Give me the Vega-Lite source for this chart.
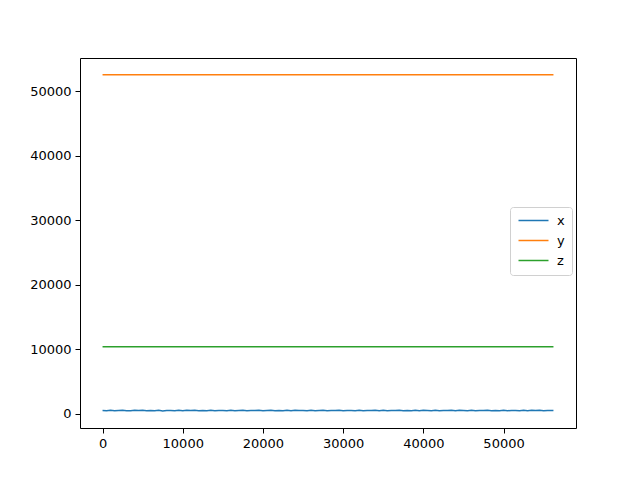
{
  "$schema": "https://vega.github.io/schema/vega-lite/v6.json",
  "width": 496,
  "height": 370,
  "autosize": "none",
  "padding": {"left": 80, "top": 58, "right": 64, "bottom": 52},
  "background": "white",
  "config": {
    "font": "DejaVu Sans",
    "view": {"stroke": "black", "strokeWidth": 1},
    "axis": {
      "grid": false,
      "domain": false,
      "tickColor": "black",
      "tickSize": 5,
      "labelColor": "black",
      "labelFont": "DejaVu Sans",
      "labelFontSize": 13,
      "labelPadding": 4,
      "title": null
    }
  },
  "data": {
    "values": [
      {"t":0,"s":"x","v":506},{"t":500,"s":"x","v":478},{"t":1000,"s":"x","v":539},{"t":1500,"s":"x","v":465},{"t":2000,"s":"x","v":520},{"t":2500,"s":"x","v":551},{"t":3000,"s":"x","v":485},{"t":3500,"s":"x","v":458},{"t":4000,"s":"x","v":530},{"t":4500,"s":"x","v":499},
      {"t":5000,"s":"x","v":562},{"t":5500,"s":"x","v":473},{"t":6000,"s":"x","v":516},{"t":6500,"s":"x","v":488},{"t":7000,"s":"x","v":545},{"t":7500,"s":"x","v":451},{"t":8000,"s":"x","v":524},{"t":8500,"s":"x","v":508},{"t":9000,"s":"x","v":480},{"t":9500,"s":"x","v":543},
      {"t":10000,"s":"x","v":469},{"t":10500,"s":"x","v":535},{"t":11000,"s":"x","v":501},{"t":11500,"s":"x","v":556},{"t":12000,"s":"x","v":474},{"t":12500,"s":"x","v":514},{"t":13000,"s":"x","v":490},{"t":13500,"s":"x","v":548},{"t":14000,"s":"x","v":461},{"t":14500,"s":"x","v":527},
      {"t":15000,"s":"x","v":504},{"t":15500,"s":"x","v":484},{"t":16000,"s":"x","v":541},{"t":16500,"s":"x","v":470},{"t":17000,"s":"x","v":522},{"t":17500,"s":"x","v":558},{"t":18000,"s":"x","v":481},{"t":18500,"s":"x","v":513},{"t":19000,"s":"x","v":495},{"t":19500,"s":"x","v":536},
      {"t":20000,"s":"x","v":455},{"t":20500,"s":"x","v":519},{"t":21000,"s":"x","v":548},{"t":21500,"s":"x","v":476},{"t":22000,"s":"x","v":510},{"t":22500,"s":"x","v":488},{"t":23000,"s":"x","v":552},{"t":23500,"s":"x","v":467},{"t":24000,"s":"x","v":531},{"t":24500,"s":"x","v":499},
      {"t":25000,"s":"x","v":521},{"t":25500,"s":"x","v":459},{"t":26000,"s":"x","v":544},{"t":26500,"s":"x","v":483},{"t":27000,"s":"x","v":514},{"t":27500,"s":"x","v":555},{"t":28000,"s":"x","v":472},{"t":28500,"s":"x","v":528},{"t":29000,"s":"x","v":497},{"t":29500,"s":"x","v":538},
      {"t":30000,"s":"x","v":463},{"t":30500,"s":"x","v":525},{"t":31000,"s":"x","v":506},{"t":31500,"s":"x","v":484},{"t":32000,"s":"x","v":549},{"t":32500,"s":"x","v":471},{"t":33000,"s":"x","v":517},{"t":33500,"s":"x","v":491},{"t":34000,"s":"x","v":560},{"t":34500,"s":"x","v":479},
      {"t":35000,"s":"x","v":532},{"t":35500,"s":"x","v":453},{"t":36000,"s":"x","v":523},{"t":36500,"s":"x","v":500},{"t":37000,"s":"x","v":542},{"t":37500,"s":"x","v":469},{"t":38000,"s":"x","v":511},{"t":38500,"s":"x","v":486},{"t":39000,"s":"x","v":554},{"t":39500,"s":"x","v":475},
      {"t":40000,"s":"x","v":529},{"t":40500,"s":"x","v":508},{"t":41000,"s":"x","v":464},{"t":41500,"s":"x","v":546},{"t":42000,"s":"x","v":482},{"t":42500,"s":"x","v":519},{"t":43000,"s":"x","v":493},{"t":43500,"s":"x","v":558},{"t":44000,"s":"x","v":471},{"t":44500,"s":"x","v":535},
      {"t":45000,"s":"x","v":502},{"t":45500,"s":"x","v":480},{"t":46000,"s":"x","v":544},{"t":46500,"s":"x","v":460},{"t":47000,"s":"x","v":526},{"t":47500,"s":"x","v":498},{"t":48000,"s":"x","v":552},{"t":48500,"s":"x","v":474},{"t":49000,"s":"x","v":517},{"t":49500,"s":"x","v":489},
      {"t":50000,"s":"x","v":540},{"t":50500,"s":"x","v":456},{"t":51000,"s":"x","v":523},{"t":51500,"s":"x","v":504},{"t":52000,"s":"x","v":483},{"t":52500,"s":"x","v":549},{"t":53000,"s":"x","v":469},{"t":53500,"s":"x","v":531},{"t":54000,"s":"x","v":495},{"t":54500,"s":"x","v":560},
      {"t":55000,"s":"x","v":477},{"t":55500,"s":"x","v":515},{"t":56224,"s":"x","v":500},
      {"t":0,"s":"y","v":52580},{"t":14000,"s":"y","v":52580},{"t":28000,"s":"y","v":52580},{"t":42000,"s":"y","v":52580},{"t":56224,"s":"y","v":52580},
      {"t":0,"s":"z","v":10400},{"t":14000,"s":"z","v":10400},{"t":28000,"s":"z","v":10400},{"t":42000,"s":"z","v":10400},{"t":56224,"s":"z","v":10400}
    ]
  },
  "mark": {"type": "line", "strokeWidth": 1.5, "clip": true},
  "encoding": {
    "x": {
      "field": "t", "type": "quantitative",
      "scale": {"domain": [-2811, 59035], "nice": false, "zero": false},
      "axis": {"values": [0, 10000, 20000, 30000, 40000, 50000], "format": "d"}
    },
    "y": {
      "field": "v", "type": "quantitative",
      "scale": {"domain": [-2205, 55186], "nice": false, "zero": false},
      "axis": {"values": [0, 10000, 20000, 30000, 40000, 50000], "format": "d"}
    },
    "color": {
      "field": "s", "type": "nominal",
      "scale": {"domain": ["x", "y", "z"], "range": ["#1f77b4", "#ff7f0e", "#2ca02c"]},
      "legend": {
        "title": null,
        "orient": "none",
        "legendX": 430,
        "legendY": 149,
        "symbolType": "M-1,0H5",
        "symbolSize": 100,
        "symbolStrokeWidth": 1.5,
        "labelFontSize": 13,
        "labelOffset": 27,
        "labelColor": "black",
        "labelFont": "DejaVu Sans",
        "rowPadding": 6,
        "padding": 7,
        "strokeColor": "#d0d0d0",
        "fillColor": "white",
        "cornerRadius": 3
      }
    }
  }
}
